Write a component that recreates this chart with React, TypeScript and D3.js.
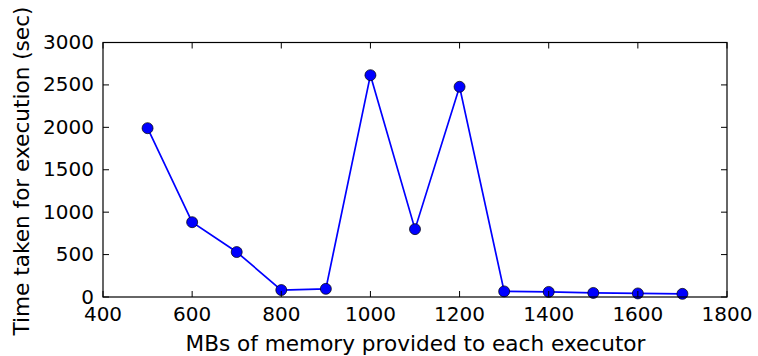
import React from "react";
import * as d3 from "d3";

const memoryMB = [500, 600, 700, 800, 900, 1000, 1100, 1200, 1300, 1400, 1500, 1600, 1700];
const timeSec = [1990, 882, 530, 82, 96, 2615, 800, 2478, 66, 60, 48, 42, 37];
const xTicks = [400, 600, 800, 1000, 1200, 1400, 1600, 1800];
const yTicks = [0, 500, 1000, 1500, 2000, 2500, 3000];

const W = 758;
const H = 356;
const left = 103;
const right = 727;
const top = 42.5;
const bottom = 297;
const font = "'DejaVu Sans', sans-serif";

export default function App() {
  const x = d3.scaleLinear().domain([400, 1800]).range([left, right]);
  const y = d3.scaleLinear().domain([0, 3000]).range([bottom, top]);
  const line = d3
    .line<number>()
    .x((_, i) => x(memoryMB[i]))
    .y((d) => y(d));
  const tl = 6;
  return (
    <svg
      width={W}
      height={H}
      style={{ position: "absolute", left: 0, top: 0, background: "#fff" }}
      fontFamily={font}
    >
      <rect x={0} y={0} width={W} height={H} fill="#fff" />
      <path d={line(timeSec) || ""} fill="none" stroke="#0000ff" strokeWidth={1.7} />
      {timeSec.map((v, i) => (
        <circle
          key={i}
          cx={x(memoryMB[i])}
          cy={y(v)}
          r={5.5}
          fill="#0000ff"
          stroke="#000"
          strokeWidth={0.7}
        />
      ))}
      {xTicks.map((t) => (
        <g key={"x" + t}>
          <line x1={x(t)} x2={x(t)} y1={bottom} y2={bottom - tl} stroke="#000" strokeWidth={1} />
          <line x1={x(t)} x2={x(t)} y1={top} y2={top + tl} stroke="#000" strokeWidth={1} />
          <text x={x(t)} y={320.5} fontSize={20} textAnchor="middle" fill="#000">
            {t}
          </text>
        </g>
      ))}
      {yTicks.map((t) => (
        <g key={"y" + t}>
          <line x1={left} x2={left + tl} y1={y(t)} y2={y(t)} stroke="#000" strokeWidth={1} />
          <line x1={right} x2={right - tl} y1={y(t)} y2={y(t)} stroke="#000" strokeWidth={1} />
          <text x={94} y={y(t) + 6.5} fontSize={20} textAnchor="end" fill="#000">
            {t}
          </text>
        </g>
      ))}
      <rect
        x={left}
        y={top}
        width={right - left}
        height={bottom - top}
        fill="none"
        stroke="#000"
        strokeWidth={1.2}
      />
      <text x={415.5} y={350.5} fontSize={21.6} textAnchor="middle" fill="#000">
        MBs of memory provided to each executor
      </text>
      <text
        transform={`translate(28.5, ${171}) rotate(-90)`}
        fontSize={21.6}
        textAnchor="middle"
        fill="#000"
      >
        Time taken for execution (sec)
      </text>
    </svg>
  );
}
